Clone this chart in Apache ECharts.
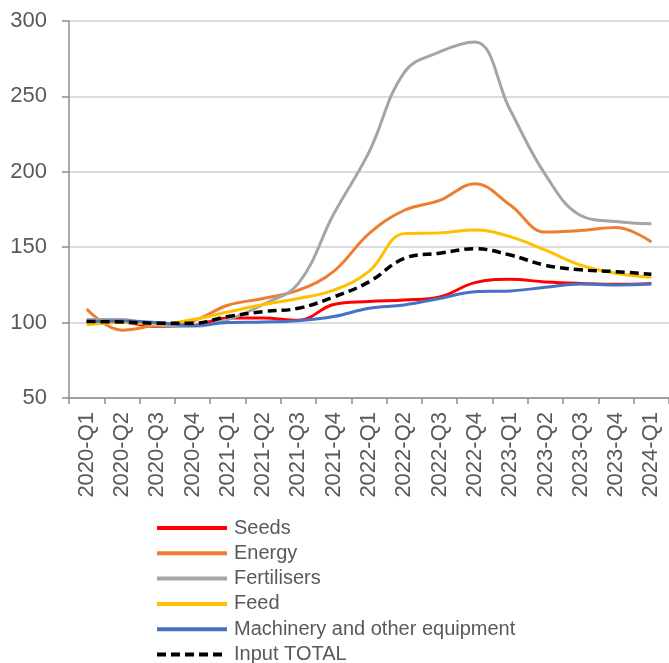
<!DOCTYPE html>
<html>
<head>
<meta charset="utf-8">
<script src="https://cdn.jsdelivr.net/npm/echarts@6/dist/echarts.min.js"></script>
<style>
html,body{margin:0;padding:0;background:#fff;}
#chart{width:669px;height:663px;}
</style>
</head>
<body>
<div id="chart"></div>
<script>
const categories = ["2020-Q1","2020-Q2","2020-Q3","2020-Q4","2021-Q1","2021-Q2","2021-Q3","2021-Q4","2022-Q1","2022-Q2","2022-Q3","2022-Q4","2023-Q1","2023-Q2","2023-Q3","2023-Q4","2024-Q1"];
const seeds = [101, 100.4, 97.5, 98, 103, 103, 101.5, 112, 114, 115, 117, 126.5, 128.7, 127, 126, 125.4, 126];
const energy = [109, 95, 98.5, 101, 111.5, 116, 121.5, 134, 159, 174.5, 181, 192, 178, 160, 161, 163, 153.5];
const fertilisers = [102, 102, 98, 97.5, 102, 112, 126, 172, 213, 266, 279.5, 286, 241, 198, 171, 167, 165.5];
const feed = [98.5, 100, 99, 102, 107, 112, 116, 121.5, 134, 159, 159.5, 161.4, 157, 148, 138, 132.7, 130];
const machinery = [100.7, 101, 100, 98, 100, 100.4, 101.3, 104, 109.5, 111.7, 116, 120.5, 121, 123.4, 125.6, 125, 125.6];
const inputTotal = [100.7, 100.4, 99.6, 99.6, 104, 107.3, 109.5, 117, 127, 142.6, 146, 149, 144.8, 138, 135, 133.8, 132];
const yTicks = {min: 50, max: 300, interval: 50};

const chart = echarts.init(document.getElementById('chart'), null, {renderer: 'canvas'});
const font = "'Liberation Sans', Arial, sans-serif";
function mk(name, data, color, extra) {
  return Object.assign({
    name: name, type: 'line', data: data, smooth: 0.4, symbol: 'none',
    lineStyle: {color: color, width: 3}, itemStyle: {color: color}
  }, extra || {});
}
chart.setOption({
  animation: false,
  grid: {left: 69, right: 0, top: 21, bottom: 265, containLabel: false},
  xAxis: {
    type: 'category', data: categories, boundaryGap: true,
    axisLine: {lineStyle: {color: '#8c8c8c', width: 1.5}},
    axisTick: {show: true, length: 6, alignWithLabel: false, lineStyle: {color: '#8c8c8c', width: 1.5}},
    axisLabel: {rotate: 90, interval: 0, margin: 14, fontSize: 22, color: '#595959', fontFamily: font}
  },
  yAxis: {
    type: 'value', min: yTicks.min, max: yTicks.max, interval: yTicks.interval,
    axisLine: {show: true, lineStyle: {color: '#8c8c8c', width: 1.5}},
    axisTick: {show: true, length: 7, lineStyle: {color: '#8c8c8c', width: 1.5}},
    axisLabel: {margin: 22, fontSize: 22, color: '#595959', fontFamily: font},
    splitLine: {lineStyle: {color: '#d0d0d0', width: 1.5}}
  },
  legend: {
    orient: 'vertical', left: 155, top: 518, height: 220, padding: 0,
    itemWidth: 70, itemHeight: 20, itemGap: 5.3,
    itemStyle: {opacity: 0},
    lineStyle: {width: 4},
    textStyle: {fontSize: 20, color: '#595959', fontFamily: font, padding: [0, 0, 0, 2]},
    data: ['Seeds','Energy','Fertilisers','Feed','Machinery and other equipment','Input TOTAL']
  },
  series: [
    mk('Seeds', seeds, '#ff0000'),
    mk('Energy', energy, '#ed7d31'),
    mk('Fertilisers', fertilisers, '#a5a5a5'),
    mk('Feed', feed, '#ffc000'),
    mk('Machinery and other equipment', machinery, '#4472c4'),
    mk('Input TOTAL', inputTotal, '#000000', {lineStyle: {color: '#000000', width: 3.5, type: [9, 5]}})
  ]
});
</script>
</body>
</html>
